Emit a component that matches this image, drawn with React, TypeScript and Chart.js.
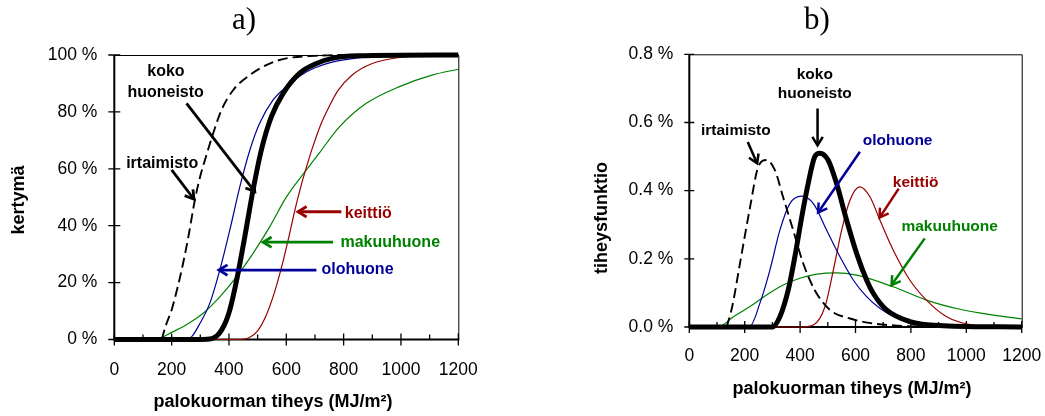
import React, { useEffect, useRef } from "react";
import { Chart, registerables } from "chart.js";
Chart.register(...registerables);

// ---------- Chart a) cumulative distribution (%) ----------
const xTicksA = [0, 200, 400, 600, 800, 1000, 1200];
const yTicksA = [0, 20, 40, 60, 80, 100];

const cdfKokoX = [0, 300, 340, 360, 374, 390, 403, 429, 455, 484, 513, 548, 589, 647, 705, 760, 850, 1200];
const cdfKokoY = [0, 0, 0.3, 1.5, 3.3, 6.5, 10.4, 22, 36, 52.5, 66.6, 78.3, 86.5, 93.6, 97, 98.8, 99.7, 100];

const cdfIrtaimistoX = [165, 180, 200, 220, 240, 260, 281, 300, 316, 345, 374, 415, 473, 542, 600, 700, 800, 1200];
const cdfIrtaimistoY = [0, 5, 10.4, 18, 26.8, 37, 49, 57.5, 63, 72.5, 80.7, 87.7, 93, 97, 98.8, 99.7, 100, 100];

const cdfOlohuoneX = [0, 250, 270, 299, 333, 368, 403, 438, 473, 507, 554, 601, 650, 700, 760, 850, 1000, 1200];
const cdfOlohuoneY = [0, 0, 1, 5.7, 12.7, 24.4, 38.5, 53.7, 66.6, 76, 84.2, 88.9, 92.8, 95.5, 97.5, 99, 99.8, 100];

const cdfKeittioX = [0, 440, 470, 500, 530, 560, 590, 610, 630, 650, 670, 690, 720, 750, 780, 830, 900, 1000, 1100, 1200];
const cdfKeittioY = [0, 0, 0.6, 3, 8.5, 17, 28, 36.5, 45.5, 53.5, 60.5, 67, 75.5, 82, 87.5, 93, 97, 99.2, 99.8, 100];

const cdfMakuuX = [0, 120, 165, 200, 240, 280, 310, 368, 426, 484, 542, 601, 670, 717, 786, 879, 995, 1111, 1200];
const cdfMakuuY = [0, 0, 0.7, 2.5, 4.5, 7, 9.2, 15, 22, 30.3, 39.6, 50.2, 59.6, 65.8, 74.8, 83, 88.9, 93, 95];

// ---------- Chart b) density function (%) ----------
const xTicksB = [0, 200, 400, 600, 800, 1000, 1200];
const yTicksB = [0, 0.2, 0.4, 0.6, 0.8];

const pdfKokoX = [0, 300, 327, 357, 381, 406, 429, 453, 471, 501, 532, 568, 604, 640, 664, 712, 796, 917, 1200];
const pdfKokoY = [0, 0, 0.03, 0.108, 0.206, 0.323, 0.42, 0.5, 0.51, 0.49, 0.42, 0.313, 0.216, 0.138, 0.099, 0.05, 0.016, 0.004, 0];

const pdfIrtaimistoX = [135, 155, 183, 219, 249, 279, 309, 339, 375, 411, 453, 508, 580, 650, 750, 900, 1200];
const pdfIrtaimistoY = [0, 0.06, 0.187, 0.35, 0.47, 0.49, 0.46, 0.38, 0.284, 0.187, 0.108, 0.05, 0.025, 0.012, 0.004, 0.001, 0];

const pdfOlohuoneX = [0, 219, 255, 291, 327, 363, 405, 448, 496, 544, 592, 640, 688, 740, 800, 900, 1200];
const pdfOlohuoneY = [0, 0.003, 0.07, 0.167, 0.284, 0.362, 0.384, 0.362, 0.284, 0.206, 0.138, 0.089, 0.055, 0.03, 0.015, 0.004, 0];

const pdfKeittioX = [0, 400, 448, 490, 520, 550, 580, 616, 652, 688, 736, 796, 856, 929, 1013, 1100, 1200];
const pdfKeittioY = [0, 0, 0.006, 0.06, 0.167, 0.284, 0.372, 0.411, 0.382, 0.314, 0.226, 0.138, 0.079, 0.03, 0.007, 0.002, 0];

const pdfMakuuX = [0, 111, 159, 219, 279, 339, 399, 460, 532, 604, 736, 856, 977, 1097, 1200];
const pdfMakuuY = [0, 0.003, 0.03, 0.06, 0.094, 0.123, 0.143, 0.155, 0.159, 0.152, 0.118, 0.079, 0.052, 0.035, 0.024];

// ---------- labels ----------
const xTitle = "palokuorman tiheys (MJ/m²)";
const yTitleA = "kertymä";
const yTitleB = "tiheysfunktio";

const BLACK = "#000000";
const BLUE = "#000099";
const RED = "#990000";
const GREEN = "#008000";

const SANS = "'Liberation Sans', Arial, sans-serif";
const SERIF = "'Liberation Serif', 'Times New Roman', serif";

// annotation texts & arrows in data coordinates
const annotA = {
  texts: [
    { t: "koko", x: 180, y: 94.1, c: BLACK, align: "center" },
    { t: "huoneisto", x: 179, y: 86.7, c: BLACK, align: "center" },
    { t: "irtaimisto", x: 167, y: 61.9, c: BLACK, align: "center" },
    { t: "keittiö", x: 804, y: 44.4, c: RED, align: "left" },
    { t: "makuuhuone", x: 789, y: 34.2, c: GREEN, align: "left" },
    { t: "olohuone", x: 723, y: 24.4, c: BLUE, align: "left" },
  ],
  arrows: [
    { x1: 252, y1: 83, x2: 490, y2: 52, c: BLACK },
    { x1: 200, y1: 59.6, x2: 278, y2: 49.3, c: BLACK },
    { x1: 792, y1: 44.9, x2: 641, y2: 44.9, c: RED },
    { x1: 763, y1: 34.2, x2: 519, y2: 34.2, c: GREEN },
    { x1: 705, y1: 24.4, x2: 365, y2: 24.4, c: BLUE },
  ],
};

const annotB = {
  texts: [
    { t: "koko", x: 453, y: 0.741, c: BLACK, align: "center" },
    { t: "huoneisto", x: 453, y: 0.683, c: BLACK, align: "center" },
    { t: "irtaimisto", x: 168, y: 0.575, c: BLACK, align: "center" },
    { t: "olohuone", x: 752, y: 0.546, c: BLUE, align: "center" },
    { t: "keittiö", x: 817, y: 0.423, c: RED, align: "center" },
    { t: "makuuhuone", x: 940, y: 0.294, c: GREEN, align: "center" },
  ],
  arrows: [
    { x1: 463, y1: 0.641, x2: 463, y2: 0.533, c: BLACK },
    { x1: 211, y1: 0.543, x2: 245, y2: 0.48, c: BLACK },
    { x1: 616, y1: 0.514, x2: 465, y2: 0.336, c: BLUE },
    { x1: 756, y1: 0.406, x2: 687, y2: 0.321, c: RED },
    { x1: 850, y1: 0.26, x2: 730, y2: 0.123, c: GREEN },
  ],
};

function pts(xs: number[], ys: number[]) {
  return xs.map((x, i) => ({ x, y: ys[i] }));
}

function makeDatasets(set: any) {
  const base = { pointRadius: 0, cubicInterpolationMode: "monotone", clip: false, fill: false };
  return [
    { ...base, label: "koko huoneisto", data: set.koko, borderColor: BLACK, borderWidth: 5 },
    { ...base, label: "irtaimisto", data: set.irt, borderColor: BLACK, borderWidth: 1.9, borderDash: [10, 5] },
    { ...base, label: "olohuone", data: set.olo, borderColor: BLUE, borderWidth: 1.2 },
    { ...base, label: "keittiö", data: set.kei, borderColor: RED, borderWidth: 1.2 },
    { ...base, label: "makuuhuone", data: set.mak, borderColor: GREEN, borderWidth: 1.2 },
  ];
}

function decorPlugin(cfg: any) {
  return {
    id: "decor",
    beforeDatasetsDraw(chart: any) {
      const ctx = chart.ctx;
      const { left, right, top, bottom } = chart.chartArea;
      const xs = chart.scales.x;
      const ys = chart.scales.y;
      ctx.save();
      ctx.strokeStyle = "#000";
      ctx.lineWidth = 1;
      ctx.beginPath();
      ctx.moveTo(left, top + 0.5);
      ctx.lineTo(right + 0.5, top + 0.5);
      ctx.lineTo(right + 0.5, bottom);
      ctx.stroke();
      ctx.lineWidth = 2;
      ctx.beginPath();
      ctx.moveTo(left, top);
      ctx.lineTo(left, bottom);
      ctx.lineTo(right + 1, bottom);
      ctx.stroke();
      ctx.lineWidth = 1.3;
      ctx.beginPath();
      for (const v of cfg.yTicks) {
        const p = ys.getPixelForValue(v);
        ctx.moveTo(left - cfg.yTickLen, p);
        ctx.lineTo(left + cfg.yTickLen, p);
      }
      for (let v = 0; v <= 1200; v += 100) {
        const p = xs.getPixelForValue(v);
        if (v % 200 === 0) {
          ctx.moveTo(p, bottom - 6);
          ctx.lineTo(p, bottom + 6);
        } else {
          ctx.moveTo(p, bottom - 5);
          ctx.lineTo(p, bottom);
        }
      }
      ctx.stroke();
      ctx.restore();
    },
    afterDraw(chart: any) {
      const ctx = chart.ctx;
      const xs = chart.scales.x;
      const ys = chart.scales.y;
      ctx.save();
      // arrows
      for (const a of cfg.annot.arrows) {
        const x1 = xs.getPixelForValue(a.x1), y1 = ys.getPixelForValue(a.y1);
        const x2 = xs.getPixelForValue(a.x2), y2 = ys.getPixelForValue(a.y2);
        ctx.strokeStyle = a.c;
        ctx.lineWidth = cfg.arrowWidth;
        ctx.lineCap = "butt";
        ctx.beginPath();
        ctx.moveTo(x1, y1);
        ctx.lineTo(x2, y2);
        ctx.stroke();
        const ang = Math.atan2(y2 - y1, x2 - x1);
        const hl = 10, ha = 0.55;
        ctx.beginPath();
        ctx.moveTo(x2 - hl * Math.cos(ang - ha), y2 - hl * Math.sin(ang - ha));
        ctx.lineTo(x2, y2);
        ctx.lineTo(x2 - hl * Math.cos(ang + ha), y2 - hl * Math.sin(ang + ha));
        ctx.stroke();
      }
      // texts
      ctx.font = `bold ${cfg.annotSize}px ${SANS}`;
      ctx.textBaseline = "middle";
      for (const t of cfg.annot.texts) {
        ctx.fillStyle = t.c;
        ctx.textAlign = t.align;
        ctx.fillText(t.t, xs.getPixelForValue(t.x), ys.getPixelForValue(t.y));
      }
      // panel title
      ctx.fillStyle = "#000";
      ctx.textAlign = "center";
      ctx.font = `31px ${SERIF}`;
      ctx.fillText(cfg.title, cfg.titlePos[0], cfg.titlePos[1]);
      // axis titles
      ctx.font = `bold 18px ${SANS}`;
      ctx.fillText(xTitle, cfg.xTitlePos[0], cfg.xTitlePos[1]);
      ctx.translate(cfg.yTitlePos[0], cfg.yTitlePos[1]);
      ctx.rotate(-Math.PI / 2);
      ctx.fillText(cfg.yTitle, 0, 0);
      ctx.restore();
    },
  };
}

function makeConfig(opts: any) {
  return {
    type: "line",
    data: { datasets: makeDatasets(opts.sets) },
    options: {
      responsive: false,
      animation: false,
      events: [],
      layout: { padding: opts.padding },
      plugins: { legend: { display: false }, tooltip: { enabled: false }, title: { display: false } },
      scales: {
        x: {
          type: "linear",
          min: 0,
          max: 1200,
          grid: { display: false, drawTicks: false },
          border: { display: false },
          afterFit: (s: any) => { s.height = opts.xHeight; s.paddingLeft = 0; s.paddingRight = 0; },
          afterBuildTicks: (s: any) => { s.ticks = opts.xTicks.map((v: number) => ({ value: v })); },
          ticks: {
            padding: opts.xPad, color: "#000", font: { family: SANS, size: 17.5 }, maxRotation: 0, autoSkip: false,
            callback: (v: number) => String(v),
          },
        },
        y: {
          type: "linear",
          min: opts.yMin,
          max: opts.yMax,
          grid: { display: false, drawTicks: false },
          border: { display: false },
          afterFit: (s: any) => { s.width = opts.yWidth; s.paddingTop = 0; s.paddingBottom = 0; },
          afterBuildTicks: (s: any) => { s.ticks = opts.yTicks.map((v: number) => ({ value: v })); },
          ticks: { padding: opts.yPad, color: "#000", font: { family: SANS, size: 17.5 }, callback: opts.yFmt },
        },
      },
    },
    plugins: [decorPlugin(opts.decor)],
  };
}

export default function App() {
  const refA = useRef<HTMLCanvasElement>(null);
  const refB = useRef<HTMLCanvasElement>(null);

  useEffect(() => {
    const cA = new Chart(refA.current as any, makeConfig({
      sets: {
        koko: pts(cdfKokoX, cdfKokoY),
        irt: pts(cdfIrtaimistoX, cdfIrtaimistoY),
        olo: pts(cdfOlohuoneX, cdfOlohuoneY),
        kei: pts(cdfKeittioX, cdfKeittioY),
        mak: pts(cdfMakuuX, cdfMakuuY),
      },
      padding: { left: 0, top: 55, right: 61.7, bottom: 0 },
      xHeight: 76.5,
      yWidth: 114.3,
      xPad: 20,
      yPad: 17,
      yMin: 0,
      yMax: 100,
      xTicks: xTicksA,
      yTicks: yTicksA,
      yFmt: (v: number) => `${Math.round(v)} %`,
      decor: {
        yTicks: yTicksA, yTickLen: 6, annot: annotA, annotSize: 16, arrowWidth: 2.8,
        title: "a)", titlePos: [244, 21], xTitlePos: [273, 402], yTitlePos: [19, 200], yTitle: yTitleA,
      },
    }) as any);
    const cB = new Chart(refB.current as any, makeConfig({
      sets: {
        koko: pts(pdfKokoX, pdfKokoY),
        irt: pts(pdfIrtaimistoX, pdfIrtaimistoY),
        olo: pts(pdfOlohuoneX, pdfOlohuoneY),
        kei: pts(pdfKeittioX, pdfKeittioY),
        mak: pts(pdfMakuuX, pdfMakuuY),
      },
      padding: { left: 0, top: 54.3, right: 23.3, bottom: 0 },
      xHeight: 89,
      yWidth: 169.3,
      xPad: 18.5,
      yPad: 16,
      yMin: 0,
      yMax: 0.8,
      xTicks: xTicksB,
      yTicks: yTicksB,
      yFmt: (v: number) => `${v.toFixed(1)} %`,
      decor: {
        yTicks: yTicksB, yTickLen: 5, annot: annotB, annotSize: 15.5, arrowWidth: 2.5,
        title: "b)", titlePos: [297, 21], xTitlePos: [332, 389], yTitlePos: [82, 218], yTitle: yTitleB,
      },
    }) as any);
    return () => { cA.destroy(); cB.destroy(); };
  }, []);

  return (
    <div style={{ position: "fixed", left: 0, top: 0, width: 1045, height: 416, background: "#fff" }}>
      <canvas ref={refA} width={520} height={416} style={{ position: "absolute", left: 0, top: 0 }} />
      <canvas ref={refB} width={525} height={416} style={{ position: "absolute", left: 520, top: 0 }} />
    </div>
  );
}
